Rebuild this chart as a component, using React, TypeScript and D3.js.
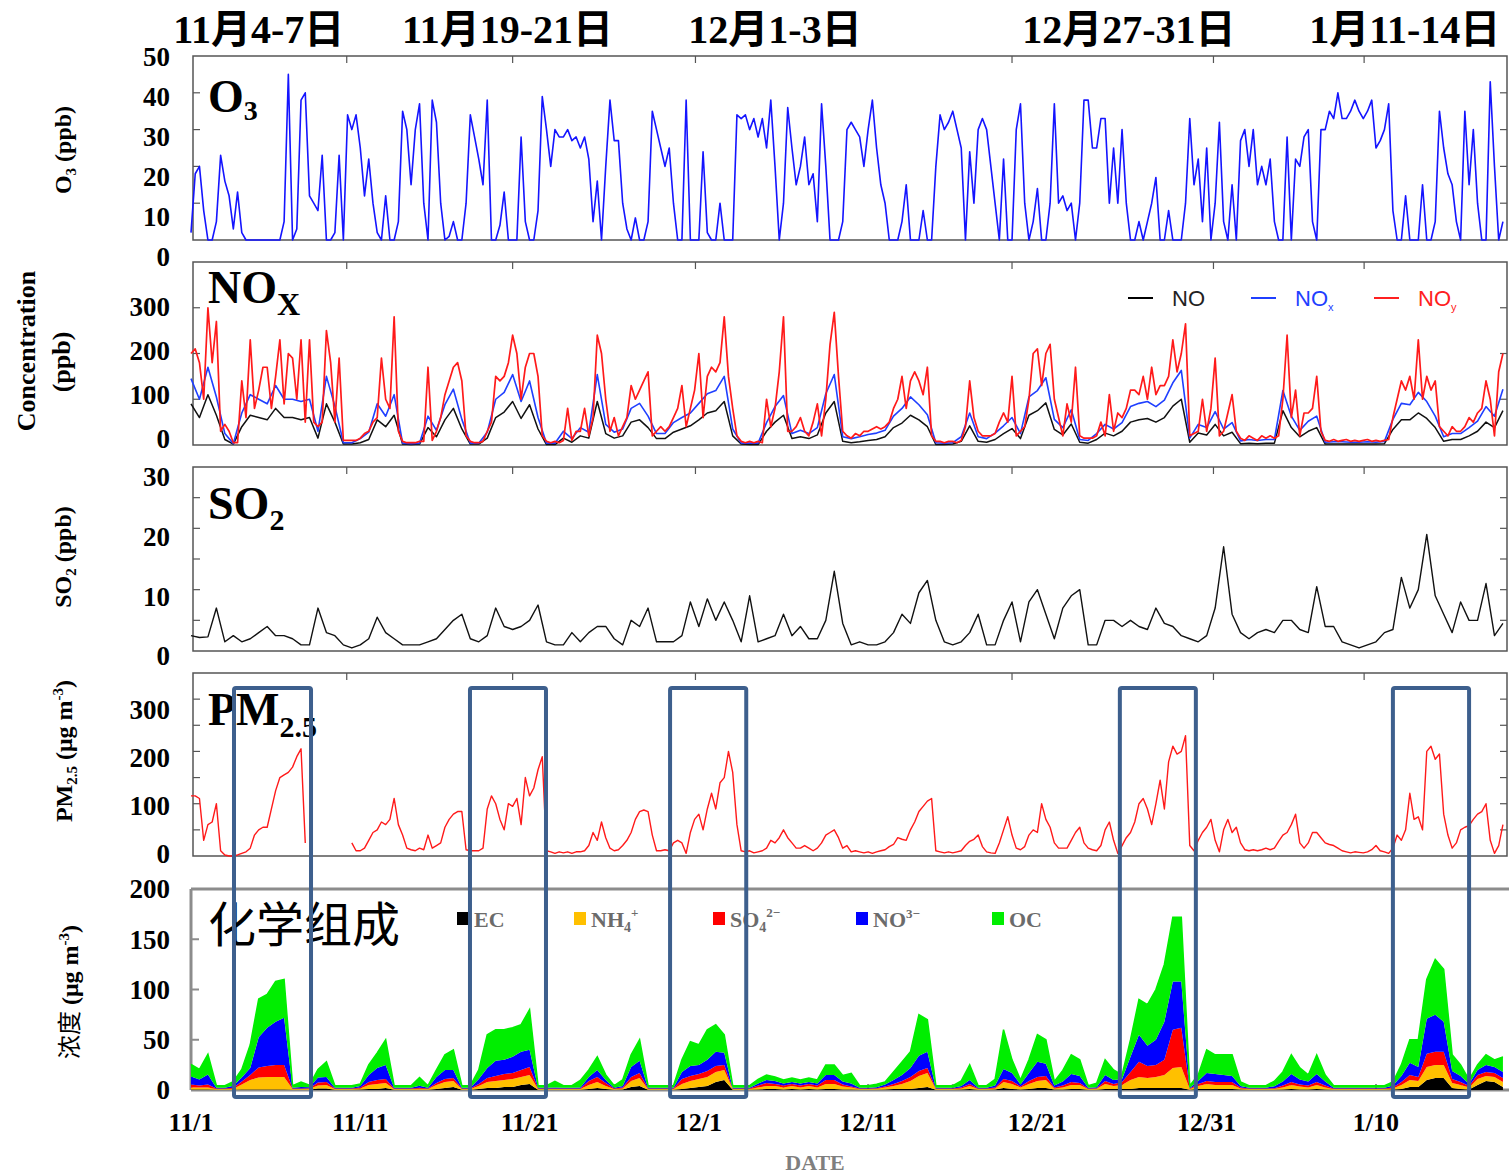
import React from "react";
import * as d3 from "d3";

// ---------------- DATA ----------------
// time axis in days since 11/1 00:00
const X_TICK_DAYS = [0, 10, 20, 30, 40, 50, 60, 70];
const X_TICK_LABELS = ["11/1", "11/11", "11/21", "12/1", "12/11", "12/21", "12/31", "1/10"];
const TOP_TICK_DAYS = [9.2, 19, 29.8, 48.5, 60.4, 69.3];
const TITLES = ["11月4-7日", "11月19-21日", "12月1-3日", "12月27-31日", "1月11-14日"];
const TITLE_DAYS = [4.0, 18.7, 34.5, 55.4, 71.7];
const EPISODES: [number, number][] = [[2.54, 7.09], [16.48, 20.97], [28.3, 32.8], [54.87, 59.36], [71.0, 75.5]];

// O3 (ppb), every 6 h
const O3_STEP = 0.25;
const O3 = [
  2,18,20,8, 0,0,5,23, 16,12,3,13, 2,0,0,0, 0,0,0,0, 0,0,5,45, 0,3,38,40, 12,10,8,23, 0,0,2,23, 0,34,30,34,
  25,12,22,10, 2,0,12,0, 0,5,35,30, 15,30,37,10, 0,38,32,10, 0,1,5,0, 0,10,34,28, 22,15,38,0, 0,4,13,0, 0,0,28,5,
  0,0,8,39, 30,20,30,28, 28,30,27,28, 25,28,22,5, 16,0,20,38, 27,27,10,3, 0,6,0,0, 5,35,30,25, 20,25,10,0, 0,38,0,0,
  0,24,2,0, 0,10,0,0, 0,34,33,34, 30,33,28,33, 25,38,20,0, 10,36,25,15, 20,28,15,18, 5,37,20,0, 0,0,5,30, 32,30,28,20,
  30,38,25,15, 10,0,0,0, 5,15,0,0, 0,8,0,0, 20,34,30,32, 35,30,25,0, 24,10,30,33, 30,20,10,0, 22,0,0,30, 37,10,0,5,
  14,0,0,10, 37,10,12,8, 10,0,10,38, 38,25,25,33, 33,10,25,10, 30,10,0,0, 5,0,5,10, 17,0,0,8, 0,0,0,10, 33,15,22,5,
  25,0,10,32, 5,0,15,0, 27,30,20,30, 15,20,15,22, 5,0,0,28, 0,22,20,28, 30,5,0,30, 30,35,33,40, 33,33,35,38, 35,33,35,38,
  25,27,30,37, 8,0,0,12, 0,0,0,15, 0,0,5,35, 25,18,15,5, 0,35,15,30, 10,0,0,43, 20,0,5,
];

// NOy (ppb), every 6 h
const NOY_STEP = 0.25;
const NOY = [
  200,210,180,100, 300,180,270,30, 45,30,5,5, 140,60,230,80, 120,170,170,80, 150,230,90,200, 190,100,230,50, 230,50,40,50, 250,180,50,190, 10,10,10,10,
  15,25,30,50, 60,190,100,80, 280,30,8,5, 5,5,8,8, 170,10,30,60, 110,140,170,180, 140,20,8,5, 5,8,30,50, 150,140,150,180, 240,200,100,170,
  200,200,150,20, 8,5,8,5, 10,80,10,30, 30,80,20,60, 240,200,100,30, 60,20,40,60, 130,100,120,140, 160,20,30,40, 30,40,60,80, 130,40,80,120,
  200,60,150,170, 160,180,280,150, 80,20,8,5, 8,5,8,5, 100,40,80,160, 280,30,30,40, 60,30,20,50, 90,20,100,220, 290,150,30,20, 15,25,20,30,
  30,35,40,35, 40,50,80,100, 150,80,140,160, 140,110,170,20, 8,8,5,8, 8,5,10,40, 140,60,30,20, 20,20,25,50, 70,50,150,20, 30,40,100,200,
  210,130,200,220, 100,60,20,90, 50,170,20,15, 15,15,20,50, 20,110,30,70, 60,80,120,120, 110,150,100,170, 110,130,130,150, 230,160,200,265, 20,25,30,100,
  30,80,190,20, 30,70,110,30, 15,10,20,15, 10,20,15,20, 15,20,100,240, 60,120,20,70, 70,80,150,30, 10,8,12,8, 10,12,8,10, 8,10,12,8,
  10,8,10,12, 60,100,140,120, 150,100,230,100, 150,120,140,40, 30,20,40,30, 30,40,60,50, 70,80,140,100, 20,160,200,
];

// NOx and NO (ppb), every 12 h
const NOX_STEP = 0.5;
const NOX = [
  145,100, 170,105, 25,3, 70,110, 100,90, 130,100, 100,95, 100,30, 150,85, 5,5,
  14,28, 90,63, 110,4, 3,4, 63,32, 88,122, 56,4, 4,28, 100,115, 154,95,
  140,60, 4,4, 30,14, 38,28, 154,45, 28,35, 80,91, 63,25, 25,49, 60,70,
  91,112, 119,150, 35,4, 4,4, 49,84, 108,25, 32,25, 38,112, 154,18, 14,18,
  23,26, 32,63, 80,105, 88,66, 5,4, 5,18, 70,18, 14,26, 42,60, 25,105,
  119,147, 56,38, 77,12, 10,25, 45,35, 49,84, 91,95, 84,98, 136,163, 15,45,
  38,73, 35,49, 9,12, 10,12, 12,119, 63,32, 52,63, 6,7, 7,6, 6,7,
  6,8, 56,91, 88,115, 95,63, 18,25, 25,38, 52,84, 63,122,
];
const NO = [
  90,60, 110,65, 12,2, 40,65, 60,55, 80,60, 60,55, 60,15, 90,50, 2,2,
  5,12, 55,40, 65,2, 1,2, 38,18, 55,80, 35,2, 2,15, 60,72, 95,58,
  88,35, 1,1, 15,6, 20,15, 95,25, 15,20, 50,55, 38,14, 14,28, 35,42,
  55,70, 75,95, 20,2, 1,1, 30,50, 65,14, 18,14, 22,70, 95,8, 5,7,
  10,12, 18,38, 48,65, 55,40, 1,1, 2,8, 42,8, 6,12, 25,36, 14,65,
  75,92, 34,22, 46,6, 4,12, 26,20, 30,50, 55,58, 50,60, 85,100, 6,26,
  22,45, 20,28, 3,4, 3,4, 4,75, 38,18, 30,38, 2,2, 2,2, 2,2,
  2,3, 34,55, 55,70, 58,38, 8,12, 12,20, 30,50, 38,75,
];

// SO2 (ppb), every 12 h
const SO2_STEP = 0.5;
const SO2 = [
  2.5,2.2, 2.3,7, 1.5,2.5, 1.5,2, 3,4, 2.5,2.5, 2,1, 1,7, 3,2.5, 1,0.5,
  1,2, 5.5,3, 2,1, 1,1, 1.5,2, 3.5,5, 6,2, 1.5,2.5, 7,4, 3.5,4,
  5,7.5, 1.5,1, 1,3, 1.5,3, 4,4, 2,1, 5,4, 7,1.5, 1.5,1.5, 2.5,8,
  4,8.5, 5,8, 5,1.5, 9,1.5, 2,2.5, 6,2.5, 4,2, 2,5, 13,4.5, 1,1.5,
  1,1, 1.5,3, 6,4.5, 9.5,11.5, 5,1.5, 1,1.5, 3,6, 1,1, 5,8, 1.5,8,
  10,6, 2,7, 9,10, 1,1, 5,5, 4,5, 4,3.5, 7,4.5, 4,2.5, 2,1.5,
  2.5,7, 17,6, 3,2, 3,3.5, 3,5, 5,3.5, 3,10.5, 4,4, 1.5,1, 0.5,1,
  1.5,3, 3.5,12, 7,10, 19,9, 6,3, 8,5, 5,11, 2.5,4.5,
];

// PM2.5 (µg m-3), every 6 h; NaN = missing
const PM_STEP = 0.25;
const N = NaN;
const PM25 = [
  115,115,110,30, 60,65,100,10, 2,0,0,2, 5,8,15,40, 50,55,55,90, 125,150,155,160, 170,190,205,25, N,N,N,N, N,N,N,N, N,N,25,10,
  10,15,30,45, 50,65,60,70, 110,60,40,15, 12,10,15,12, 40,15,20,25, 55,70,80,85, 85,12,10,10, 10,15,90,115, 100,70,50,100, 95,110,60,150,
  115,130,165,190, 10,8,5,8, 6,8,5,8, 8,10,20,45, 30,65,35,15, 10,12,20,30, 45,70,85,88, 85,40,10,10, 12,10,25,30, 25,5,45,70,
  80,50,90,120, 90,140,150,200, 160,60,10,8, 10,6,8,10, 15,30,25,35, 50,35,25,15, 15,20,15,10, 15,25,40,45, 50,35,15,20, 8,10,8,6,
  8,5,8,10, 12,18,22,35, 32,30,50,65, 85,95,105,110, 10,8,6,8, 6,8,10,20, 28,32,40,18, 8,6,5,25, 50,75,40,15, 12,18,40,50,
  45,100,70,55, 25,15,15,15, 30,45,55,25, 15,12,10,20, 50,65,30,5, 20,35,45,65, 100,110,90,60, 100,145,90,180, 210,195,200,230, 20,10,30,45,
  55,70,30,8, 50,70,45,55, 25,12,10,12, 10,12,15,12, 15,28,40,45, 60,80,25,15, 25,45,45,35, 25,22,20,15, 10,8,6,8, 7,6,8,12,
  20,10,8,5, 15,40,30,50, 120,70,75,50, 200,210,185,195, 80,40,15,25, 50,55,58,70, 80,85,100,30, 5,20,60,
];

// chemical composition (µg m-3), every 12 h
const CHEM_STEP = 0.5;
const EC = [
  0.5,0.5,0.5,0.3,0.3,0.3,0.5,0.5,0.5,0.5, 0.5,0.5,0.3,0.3,0.3,1.5,1.5,0.3,0.3,0.3,
  0.5,1,1,2,0.3,0.3,0.3,0.3,0.3,1, 2,3,0.3,0.3,1,2,2,3,3,5,
  6,0.3,0.3,0.3,0.3,0.3,0.3,1,2,1, 0.3,0.5,3,4,0.3,0.3,0.3,0.3,1,2,
  3,4,8,10,0.3,0.3,0.3,0.5,1,1, 0.5,1,0.5,1,0.5,1,1,0.5,0.5,0.3,
  0.3,0.3,0.5,1,1,1,2,3,0.3,0.3, 0.3,0.5,1,0.3,0.3,0.5,2,1,0.5,1,
  2,2,0.5,0.5,1,1,0.3,0.3,1,1, 1,1,2,2,2,2,2,2,0.3,1,
  1,1,1,1,0.5,0.3,0.3,0.3,0.3,0.5, 1,0.5,0.5,1,0.5,0.3,0.3,0.3,0.3,0.3,
  0.3,0.3,0.5,1,3,3,10,12,12,2, 1,0.5,5,9,8,3,
];
const NH4 = [
  2,2,2,0.7,0.7,1,5,9.5,12,12.5, 12.5,12.5,0.7,0.7,1,3,3.5,0.7,0.7,0.7,
  1,4,5,5,0.7,0.7,0.7,1,0.7,4, 6,6,0.7,0.7,3,6,7,7,8,8,
  9,0.7,0.7,0.7,0.7,0.7,0.7,4,6,3, 0.7,1,6,8,0.7,0.7,0.7,0.7,5,7,
  8,9,10,10,0.7,0.7,0.7,2,3,3, 2,3,2,3,2,5,5,3,2,0.7,
  0.7,1,2,3,5,8,12,14,0.7,0.7, 0.7,1,3,0.7,0.7,1,6,5,2,5,
  7,8,1,2,4,4,0.7,1,5,3, 4,9,11,10,11,13,20,21,0.7,3,
  5,4,4,4,1,0.7,0.7,0.7,1,2, 4,3,2,4,2,0.7,0.7,0.7,0.7,0.7,
  0.7,0.7,1,4,7,6,13,13,13,5, 4,2,6,5,5,5,
];
const SO4 = [
  3,2,3,0.5,0.5,1,3,5,10,11, 12,12,0.5,0.5,0.5,3,3,0.5,0.5,0.5,
  1,3,4,4,0.5,0.5,0.5,1,0.5,2, 3,3,0.5,0.5,2,4,5,6,6,7,
  8,0.5,0.5,0.5,0.5,0.5,0.5,4,5,3, 0.5,1,4,5,0.5,0.5,0.5,0.5,5,5,
  5,6,6,5,0.5,0.5,0.5,2,3,2, 2,2,2,2,2,4,4,2,1,0.5,
  0.5,0.5,1,2,3,4,5,5,0.5,0.5, 0.5,1,2,0.5,0.5,1,3,3,1,3,
  4,4,1,2,3,2,0.5,0.5,3,2, 3,8,15,12,12,15,38,39,0.5,2,
  3,3,3,3,1,0.5,0.5,0.5,0.5,2, 3,2,2,3,2,0.5,0.5,0.5,0.5,0.5,
  0.5,0.5,1,3,5,4,13,13,13,4, 3,1.5,4,4,4,4,
];
const NO3 = [
  8,6,10,0.8,0.8,2,4,7,30,38, 43,47,0.8,1.5,1,5,5,0.8,0.8,0.8,
  1.5,7,12,14,0.8,0.8,0.8,2,0.8,6, 9,8,0.8,0.8,5,10,15,14,16,18,
  17,0.8,0.8,1,0.8,0.8,1,4,7,3, 0.8,1.5,10,12,0.8,0.8,0.8,0.8,7,10,
  9,11,14,12,0.8,0.8,0.8,2,3,3, 2,2,2,2,2,5,5,3,3,0.8,
  0.8,1,2,4,6,9,15,16,0.8,0.8, 0.8,1.5,4,0.8,0.8,2,10,8,2,8,
  15,12,2,4,8,7,0.8,1,6,4, 3,15,27,20,25,38,48,46,0.8,3,
  8,8,7,6,1.5,0.8,0.8,0.8,2,4, 8,5,4,8,4,0.8,0.8,0.8,0.8,0.8,
  0.8,0.8,2,6,12,10,35,37,30,8, 6,2,5,7,6,6,
];
const OC = [
  12,10,20,2,2,4,8,23,38,33, 40,38,2,5,2,8,15,2,2,2,
  2,10,15,25,2,2,2,8,2,7, 15,20,2,2,9,33,31,30,29,27,
  40,2,2,6,2,2,7,7,13,5, 2,6,12,21,2,2,2,2,12,24,
  20,30,27,18,2,2,2,4,5,4, 3.5,4,3.5,4,3.5,10,10,6,10,2,
  2,3,2.5,8,13,16,41,32,2,2, 2,5,15,2,2,6,39,13,4.5,13,
  27,24,4,11,19,16,2,4,15,10, 4,17,35,41,50,57,64,64,2,6,
  23,19,20,21,4,2,2,2,5,9.5, 19,11.5,6.5,19,6.5,2,2,2,2,2,
  2,2,3.5,11,23,27,39,55,52,16, 11,4,5,10,7,15,
];
const CHEM_KEYS = ["EC", "NH4", "SO4", "NO3", "OC"];
const CHEM_COLORS = ["#000000", "#ffc000", "#ff0000", "#0000ff", "#00ee00"];

const NOX_LEGEND = [
  { name: "NO", sub: "", color: "#000000", text: "#222222" },
  { name: "NO", sub: "x", color: "#1f3fff", text: "#1f3fff" },
  { name: "NO", sub: "y", color: "#ff2020", text: "#ff2020" },
];

// ---------------- COMPONENT ----------------
const SERIF = "'Liberation Serif','Times New Roman','Noto Sans CJK SC',serif";
const SANS = "'Liberation Sans',Arial,sans-serif";
const CJK = "'Noto Sans CJK SC','Liberation Serif',sans-serif";

export default function App() {
  const W = 1509, H = 1175;
  const x = d3.scaleLinear().domain([0, 77.74]).range([191, 1507]);
  const L = 193, R = 1507;

  const yO3 = d3.scaleLinear().domain([0, 50]).range([240, 56]);
  const yO3Lab = d3.scaleLinear().domain([0, 50]).range([257, 57]);
  const yNox = d3.scaleLinear().domain([0, 400]).range([445, 262]);
  const yNoxLab = d3.scaleLinear().domain([0, 300]).range([439, 307]);
  const ySo2 = d3.scaleLinear().domain([0, 30]).range([651, 467]);
  const ySo2Lab = d3.scaleLinear().domain([0, 30]).range([656, 477]);
  const yPm = d3.scaleLinear().domain([0, 350]).range([856, 673]);
  const yPmLab = d3.scaleLinear().domain([0, 300]).range([854, 710]);
  const yChem = d3.scaleLinear().domain([0, 200]).range([1090, 889]);

  const mkLine = (data: number[], step: number, y: d3.ScaleLinear<number, number>) =>
    d3.line<number>()
      .defined((v) => Number.isFinite(v))
      .x((_, i) => x(i * step))
      .y((v) => y(v))(data) || "";

  const rows = EC.map((_, i) => ({
    t: i * CHEM_STEP, EC: EC[i], NH4: NH4[i], SO4: SO4[i], NO3: NO3[i], OC: OC[i],
  }));
  const stacked = d3.stack<any>().keys(CHEM_KEYS)(rows);
  const area = d3.area<any>()
    .x((d) => x(d.data.t))
    .y0((d) => yChem(d[0]))
    .y1((d) => yChem(d[1]));

  const frameStroke = "#555";
  const panels = [
    { top: 56, bottom: 240, y: yO3, ticks: [10, 20, 30, 40] },
    { top: 262, bottom: 445, y: yNox, ticks: [100, 200, 300] },
    { top: 467, bottom: 651, y: ySo2, ticks: [5, 10, 15, 20, 25] },
    { top: 673, bottom: 856, y: yPm, ticks: [50, 100, 150, 200, 250, 300] },
  ];

  const labelSets = [
    { scale: yO3Lab, vals: [0, 10, 20, 30, 40, 50] },
    { scale: yNoxLab, vals: [0, 100, 200, 300] },
    { scale: ySo2Lab, vals: [0, 10, 20, 30] },
    { scale: yPmLab, vals: [0, 100, 200, 300] },
    { scale: yChem, vals: [0, 50, 100, 150, 200] },
  ];

  const chemLegend = [
    { x: 457, color: CHEM_COLORS[0], main: "EC", sub: "", sup: "" },
    { x: 574, color: CHEM_COLORS[1], main: "NH", sub: "4", sup: "+" },
    { x: 713, color: CHEM_COLORS[2], main: "SO", sub: "4", sup: "2−" },
    { x: 856, color: CHEM_COLORS[3], main: "NO", sub: "", sup: "3−" },
    { x: 992, color: CHEM_COLORS[4], main: "OC", sub: "", sup: "" },
  ];

  return (
    <svg width={W} height={H} style={{ position: "absolute", left: 0, top: 0, background: "#fff" }}>
      <rect width={W} height={H} fill="#fff" />

      {/* top titles */}
      {TITLES.map((t, i) => (
        <text key={t} x={x(TITLE_DAYS[i])} y={43} textAnchor="middle" fontFamily={SERIF}
          fontWeight="bold" fontSize={40} fill="#000">{t}</text>
      ))}

      {/* panel frames and ticks */}
      {panels.map((p, i) => (
        <g key={i}>
          <rect x={L} y={p.top} width={R - L} height={p.bottom - p.top} fill="none" stroke={frameStroke} strokeWidth={1.5} />
          {p.ticks.map((v) => (
            <g key={v}>
              <line x1={L} x2={L + 7} y1={p.y(v)} y2={p.y(v)} stroke={frameStroke} strokeWidth={1.2} />
              <line x1={R - 7} x2={R} y1={p.y(v)} y2={p.y(v)} stroke={frameStroke} strokeWidth={1.2} />
            </g>
          ))}
          {TOP_TICK_DAYS.map((d) => (
            <line key={d} x1={x(d)} x2={x(d)} y1={p.top} y2={p.top + 7} stroke={frameStroke} strokeWidth={1.2} />
          ))}
        </g>
      ))}

      {/* chem frame */}
      <g stroke="#8c8c8c" strokeWidth={3} fill="none">
        <line x1={191} x2={1512} y1={yChem(200)} y2={yChem(200)} />
        <line x1={191} x2={191} y1={yChem(200)} y2={yChem(0)} />
        <line x1={191} x2={1512} y1={yChem(0)} y2={yChem(0)} />
      </g>
      {[50, 100, 150].map((v) => (
        <line key={v} x1={191} x2={199} y1={yChem(v)} y2={yChem(v)} stroke="#8c8c8c" strokeWidth={2} />
      ))}
      {d3.range(5, 78, 5).map((d) => (
        <line key={d} x1={x(d)} x2={x(d)} y1={yChem(0)} y2={yChem(0) - 6} stroke="#8c8c8c" strokeWidth={2} />
      ))}

      {/* O3 */}
      <path d={mkLine(O3, O3_STEP, yO3)} fill="none" stroke="#1414ff" strokeWidth={1.6} strokeLinejoin="round" />

      {/* NOx panel */}
      <path d={mkLine(NO, NOX_STEP, yNox)} fill="none" stroke="#111" strokeWidth={1.5} strokeLinejoin="round" />
      <path d={mkLine(NOX, NOX_STEP, yNox)} fill="none" stroke="#1f3fff" strokeWidth={1.6} strokeLinejoin="round" />
      <path d={mkLine(NOY, NOY_STEP, yNox)} fill="none" stroke="#ff1a1a" strokeWidth={1.7} strokeLinejoin="round" />

      {/* SO2 */}
      <path d={mkLine(SO2, SO2_STEP, ySo2)} fill="none" stroke="#111" strokeWidth={1.4} strokeLinejoin="round" />

      {/* PM2.5 */}
      <path d={mkLine(PM25, PM_STEP, yPm)} fill="none" stroke="#ff1a1a" strokeWidth={1.4} strokeLinejoin="round" />

      {/* chem stack */}
      {stacked.map((s, i) => (
        <path key={s.key} d={area(s as any) || ""} fill={CHEM_COLORS[i]} stroke="none" />
      ))}
      <path
        d={d3.line<any>().x((d) => x(d.data.t)).y((d) => yChem(d[1]))(stacked[4] as any) || ""}
        fill="none" stroke="#00ee00" strokeWidth={1.5}
      />

      {/* panel titles */}
      <text x={208} y={112} fontFamily={SERIF} fontWeight="bold" fontSize={46}>
        O<tspan fontSize={28} dy={8}>3</tspan>
      </text>
      <text x={208} y={303} fontFamily={SERIF} fontWeight="bold" fontSize={46}>
        NO<tspan fontSize={32} dy={12}>X</tspan>
      </text>
      <text x={208} y={519} fontFamily={SERIF} fontWeight="bold" fontSize={46}>
        SO<tspan fontSize={30} dy={11}>2</tspan>
      </text>
      <text x={208} y={725} fontFamily={SERIF} fontWeight="bold" fontSize={46}>
        PM<tspan fontSize={30} dy={12}>2.5</tspan>
      </text>
      <text x={208} y={942} fontFamily={CJK} fontSize={48} fill="#000">化学组成</text>

      {/* NOx legend */}
      {NOX_LEGEND.map((it, i) => {
        const x0 = 1128 + i * 123;
        return (
          <g key={i}>
            <line x1={x0} x2={x0 + 25} y1={298} y2={298} stroke={it.color} strokeWidth={2} />
            <text x={x0 + 44} y={306} fontFamily={SANS} fontSize={22} fill={it.text}>
              {it.name}
              {it.sub && <tspan fontSize={11} dy={5}>{it.sub}</tspan>}
            </text>
          </g>
        );
      })}

      {/* chem legend */}
      {chemLegend.map((it) => (
        <g key={it.main + it.x}>
          <rect x={it.x} y={912} width={12} height={13} fill={it.color} />
          <text x={it.x + 17} y={927} fontFamily={SERIF} fontWeight="bold" fontSize={22} fill="#6b6b6b">
            {it.main}
            {it.sub && <tspan fontSize={14} dy={5}>{it.sub}</tspan>}
            {it.sup && <tspan fontSize={13} dy={it.sub ? -15 : -9}>{it.sup}</tspan>}
          </text>
        </g>
      ))}

      {/* episode boxes */}
      {EPISODES.map(([s, e], i) => (
        <rect key={i} x={x(s)} y={688} width={x(e) - x(s)} height={409} rx={2}
          fill="none" stroke="#3d5f8d" strokeWidth={4} />
      ))}

      {/* y tick labels */}
      {labelSets.map((ls, i) => (
        <g key={i}>
          {ls.vals.map((v) => (
            <text key={v} x={170} y={ls.scale(v)} dy="0.35em" textAnchor="end" fontFamily={SERIF}
              fontWeight="bold" fontSize={27} fill="#000">{v}</text>
          ))}
        </g>
      ))}

      {/* y axis titles */}
      <text transform="translate(71,150) rotate(-90)" textAnchor="middle" fontFamily={SERIF} fontWeight="bold" fontSize={24}>
        O<tspan fontSize={15} dy={5}>3</tspan><tspan dy={-5}>{"  (ppb)"}</tspan>
      </text>
      <text transform="translate(35,351) rotate(-90)" textAnchor="middle" fontFamily={SERIF} fontWeight="bold" fontSize={26}>
        Concentration
      </text>
      <text transform="translate(70,362) rotate(-90)" textAnchor="middle" fontFamily={SERIF} fontWeight="bold" fontSize={26}>
        (ppb)
      </text>
      <text transform="translate(71,557) rotate(-90)" textAnchor="middle" fontFamily={SERIF} fontWeight="bold" fontSize={24}>
        SO<tspan fontSize={15} dy={5}>2</tspan><tspan dy={-5}>{" (ppb)"}</tspan>
      </text>
      <text transform="translate(72,751) rotate(-90)" textAnchor="middle" fontFamily={SERIF} fontWeight="bold" fontSize={24}>
        PM<tspan fontSize={15} dy={5}>2.5</tspan><tspan dy={-5}>{" (μg m"}</tspan><tspan fontSize={15} dy={-9}>-3</tspan><tspan dy={9}>)</tspan>
      </text>
      <text transform="translate(78,992) rotate(-90)" textAnchor="middle" fontFamily={CJK} fontSize={24}>
        浓度<tspan fontFamily={SERIF} fontWeight="bold">{" (μg m"}</tspan><tspan fontFamily={SERIF} fontWeight="bold" fontSize={15} dy={-9}>-3</tspan><tspan fontFamily={SERIF} fontWeight="bold" dy={9}>)</tspan>
      </text>

      {/* x tick labels */}
      {X_TICK_DAYS.map((d, i) => (
        <text key={d} x={x(d)} y={1131} textAnchor="middle" fontFamily={SERIF} fontWeight="bold" fontSize={26}>
          {X_TICK_LABELS[i]}
        </text>
      ))}
      <text x={815} y={1170} textAnchor="middle" fontFamily={SERIF} fontWeight="bold" fontSize={22} fill="#7f7f7f">DATE</text>
    </svg>
  );
}
